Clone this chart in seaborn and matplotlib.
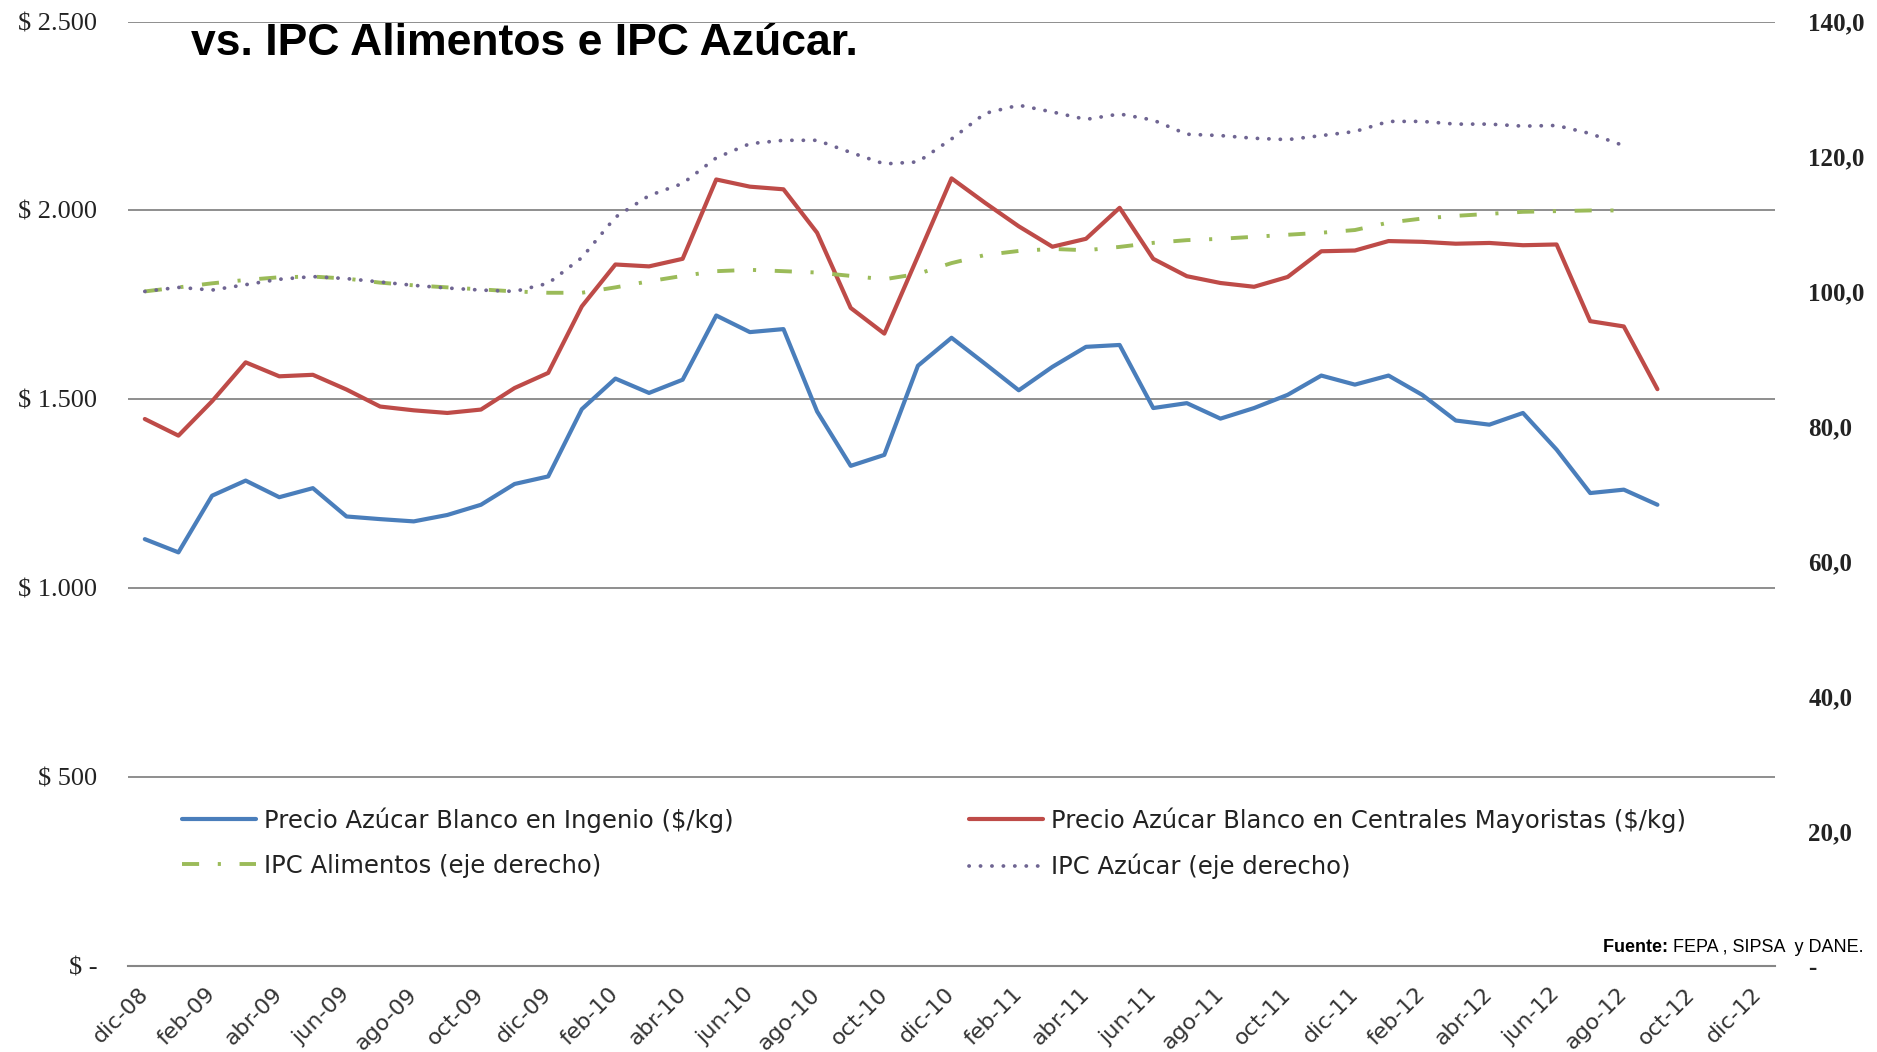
import numpy as np
import pandas as pd
import matplotlib
matplotlib.use("Agg")
import matplotlib.pyplot as plt
import matplotlib.transforms as mtransforms
import seaborn as sns

# Precios azucar blanco ($/kg) y IPC, mensual dic-08 .. sep-12
months = ["dic-08", "ene-09", "feb-09", "mar-09", "abr-09", "may-09", "jun-09", "jul-09",
          "ago-09", "sep-09", "oct-09", "nov-09", "dic-09", "ene-10", "feb-10", "mar-10",
          "abr-10", "may-10", "jun-10", "jul-10", "ago-10", "sep-10", "oct-10", "nov-10",
          "dic-10", "ene-11", "feb-11", "mar-11", "abr-11", "may-11", "jun-11", "jul-11",
          "ago-11", "sep-11", "oct-11", "nov-11", "dic-11", "ene-12", "feb-12", "mar-12",
          "abr-12", "may-12", "jun-12", "jul-12", "ago-12", "sep-12"]

precio_ingenio = [1130, 1095, 1245, 1285, 1241, 1265, 1190, 1183, 1177, 1194, 1221, 1276,
                  1296, 1474, 1555, 1517, 1552, 1722, 1678, 1686, 1468, 1324, 1353, 1589,
                  1663, 1594, 1524, 1586, 1639, 1644, 1477, 1490, 1449, 1477, 1512, 1563,
                  1539, 1563, 1512, 1444, 1433, 1464, 1367, 1252, 1261, 1221]

precio_mayoristas = [1448, 1404, 1495, 1598, 1561, 1565, 1526, 1481, 1471, 1464, 1473, 1530,
                     1570, 1746, 1857, 1852, 1872, 2082, 2063, 2056, 1941, 1742, 1674, 1879,
                     2085, 2020, 1958, 1904, 1925, 2007, 1872, 1826, 1808, 1798, 1824, 1892,
                     1894, 1919, 1917, 1912, 1914, 1908, 1910, 1707, 1693, 1527]

# IPC hasta ago-12
ipc_alimentos = [100.0, 100.6, 101.2, 101.7, 102.1, 102.2, 101.9, 101.3, 100.9, 100.6, 100.3,
                 100.0, 99.8, 99.8, 100.6, 101.5, 102.3, 103.0, 103.2, 103.0, 102.8, 102.3,
                 101.8, 102.6, 104.2, 105.4, 106.0, 106.3, 106.1, 106.6, 107.2, 107.6, 107.8,
                 108.1, 108.4, 108.7, 109.1, 110.2, 110.8, 111.2, 111.5, 111.8, 111.9, 112.0,
                 112.0]

ipc_azucar = [100.0, 100.6, 100.2, 101.0, 101.8, 102.2, 101.9, 101.4, 100.9, 100.5, 100.2,
              100.0, 101.2, 105.0, 111.0, 114.2, 116.0, 119.8, 121.9, 122.4, 122.4, 120.6,
              118.9, 119.2, 122.6, 126.4, 127.6, 126.6, 125.5, 126.3, 125.4, 123.3, 123.1,
              122.7, 122.5, 123.1, 123.7, 125.2, 125.2, 124.8, 124.8, 124.5, 124.6, 123.4,
              121.6]

tick_labels = ["dic-08", "feb-09", "abr-09", "jun-09", "ago-09", "oct-09", "dic-09", "feb-10",
               "abr-10", "jun-10", "ago-10", "oct-10", "dic-10", "feb-11", "abr-11", "jun-11",
               "ago-11", "oct-11", "dic-11", "feb-12", "abr-12", "jun-12", "ago-12", "oct-12",
               "dic-12"]

left_ticks = [0, 500, 1000, 1500, 2000, 2500]
left_labels = ["$ -", "$ 500", "$ 1.000", "$ 1.500", "$ 2.000", "$ 2.500"]
right_ticks = [0, 20, 40, 60, 80, 100, 120, 140]
right_labels = ["-", "20,0", "40,0", "60,0", "80,0", "100,0", "120,0", "140,0"]

# points sit in the middle of each month slot
df = pd.DataFrame({"mes": months, "pos": np.arange(len(months)) + 0.5,
                   "ingenio": precio_ingenio, "mayoristas": precio_mayoristas})
df_ipc = pd.DataFrame({"pos": np.arange(len(ipc_alimentos)) + 0.5,
                       "alimentos": ipc_alimentos, "azucar": ipc_azucar})

sns.set_style("white")
plt.rcParams["font.family"] = ["DejaVu Sans"]

fig = plt.figure(figsize=(18.77, 10.52), dpi=100)
ax = fig.add_axes([0.0682, 0.0817, 0.8775, 0.8978])
ax2 = ax.twinx()

blue = "#4a7ebb"
red = "#be4b48"
green = "#9bbb59"
purple = "#6f6592"

sns.lineplot(data=df, x="pos", y="ingenio", ax=ax, color=blue, lw=3.0,
             label="Precio Azúcar Blanco en Ingenio ($/kg)", legend=False)
sns.lineplot(data=df, x="pos", y="mayoristas", ax=ax, color=red, lw=3.0,
             label="Precio Azúcar Blanco en Centrales Mayoristas ($/kg)", legend=False)
sns.lineplot(data=df_ipc, x="pos", y="alimentos", ax=ax2, color=green, lw=2.8,
             label="IPC Alimentos (eje derecho)", legend=False)
sns.lineplot(data=df_ipc, x="pos", y="azucar", ax=ax2, color=purple, lw=2.7,
             label="IPC Azúcar (eje derecho)", legend=False)
ax2.lines[0].set_dashes([4.4, 4.8, 0.8, 4.8])
ax2.lines[1].set_dashes([0.05, 3.0])
ax2.lines[1].set_dash_capstyle("round")

ax.set_xlim(0, 49)
ax.set_ylim(0, 2500)
ax2.set_ylim(0, 140)

ax.set_yticks(left_ticks)
ax.set_yticklabels(left_labels, family="Liberation Serif", fontsize=19, color="#222222")
ax2.set_yticks(right_ticks)
ax2.set_yticklabels(right_labels, family="Liberation Serif", fontsize=18,
                    fontweight="bold", color="#222222")
ax.tick_params(axis="y", length=0, pad=22)
ax2.tick_params(axis="y", length=0, pad=24)

ax.set_xticks(np.arange(0, 49, 2))
ax.set_xticklabels(tick_labels, rotation=45, ha="right", rotation_mode="anchor",
                   fontsize=16, color="#333333")
ax.tick_params(axis="x", length=7, width=1.2, color="#868686", pad=6, direction="out")
shift = mtransforms.ScaledTranslation(10 / 100, 0, fig.dpi_scale_trans)
for lab in ax.get_xticklabels():
    lab.set_transform(lab.get_transform() + shift)
ax.set_xlabel("")
ax.set_ylabel("")
ax2.set_ylabel("")

ax.yaxis.grid(True, color="#868686", lw=1.3)
ax.set_axisbelow(True)
for a in (ax, ax2):
    for s in ("left", "right", "top", "bottom"):
        a.spines[s].set_visible(False)
ax.spines["bottom"].set_visible(True)
ax.spines["bottom"].set_color("#868686")
ax.spines["bottom"].set_linewidth(1.5)

h1, l1 = ax.get_legend_handles_labels()
h2, l2 = ax2.get_legend_handles_labels()
handles = [h1[0], h2[0], h1[1], h2[1]]
labels = [l1[0], l2[0], l1[1], l2[1]]
leg = ax2.legend(handles, labels, ncol=2, loc="upper left", bbox_to_anchor=(0.033, 0.168),
                 frameon=False, fontsize=17.5, handlelength=3.05, handletextpad=0.3,
                 labelspacing=0.85, columnspacing=9.7, borderpad=0, borderaxespad=0)
for t in leg.get_texts():
    t.set_color("#222222")

fig.text(191 / 1877, 1 - 55 / 1052, "vs. IPC Alimentos e IPC Azúcar.",
         family=["Liberation Sans Narrow", "Liberation Sans"], fontweight="bold",
         fontsize=32, va="baseline", ha="left", color="black")

t1 = fig.text(1603 / 1877, 1 - 952 / 1052, "Fuente: ",
              family=["Liberation Sans Narrow", "Liberation Sans"], fontweight="bold",
              fontsize=13, va="baseline", ha="left", color="black")
ax2.annotate("FEPA , SIPSA  y DANE.", xy=(1, 0), xycoords=t1, ha="left", va="bottom",
             family=["Liberation Sans Narrow", "Liberation Sans"], fontsize=13,
             color="black", annotation_clip=False)

fig.savefig("out.png", dpi=100, facecolor="white")
